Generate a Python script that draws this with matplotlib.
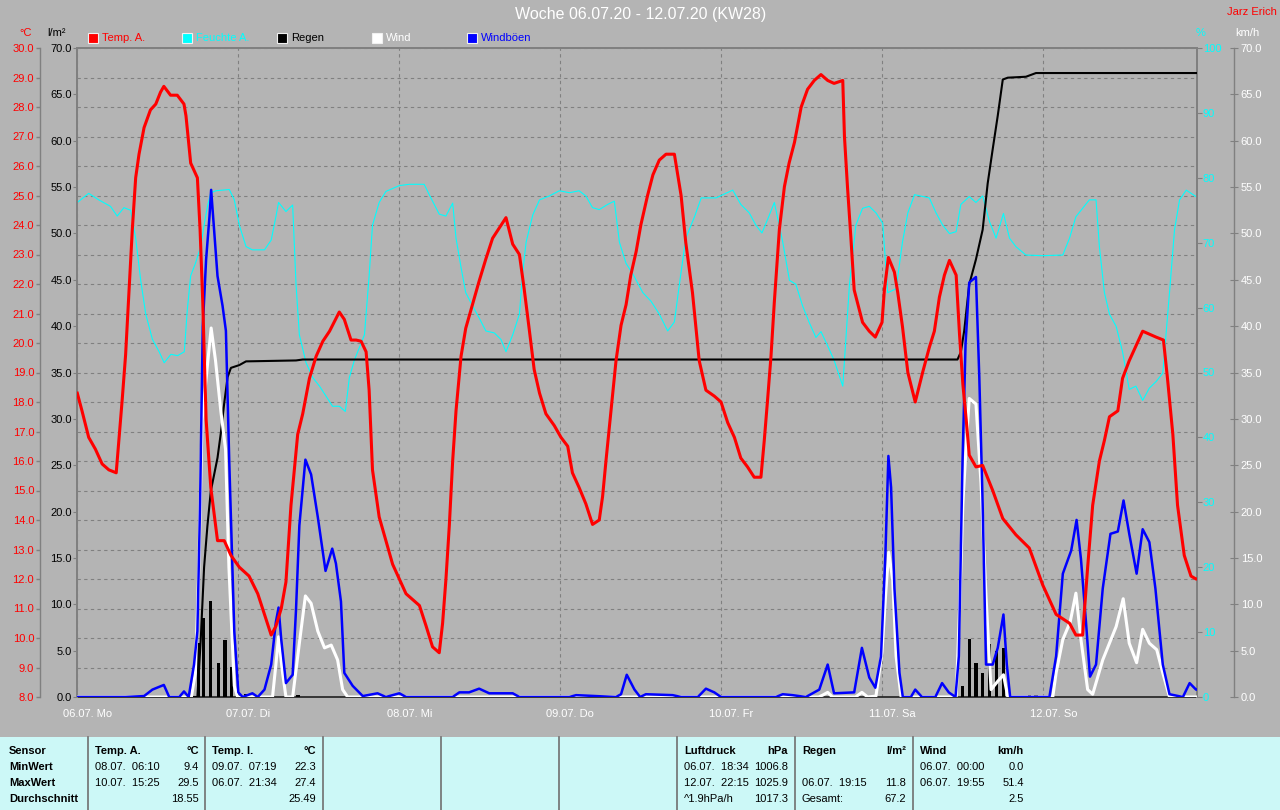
import numpy as np
import matplotlib.pyplot as plt
from matplotlib.patches import Rectangle
from matplotlib.lines import Line2D
from matplotlib.transforms import ScaledTranslation

plt.rcParams['font.family'] = ['Liberation Sans', 'DejaVu Sans']

# ---- data (hours since 06.07. 00:00) ----
day_labels = ['06.07. Mo', '07.07. Di', '08.07. Mi', '09.07. Do', '10.07. Fr', '11.07. Sa', '12.07. So']

temp_hours = [0, 0.7, 1.7, 2.7, 3.7, 4.7, 5.8, 6.2, 6.7, 7.2, 7.7, 8.2, 8.7, 9.2, 9.95, 10.9, 11.7, 12.4, 12.9,
              13.9, 14.9, 15.9, 16.2, 16.9, 17.9, 18.3, 18.7, 19.2, 19.9, 20.9, 21.9, 22.9, 24.15, 25.6, 26.9,
              27.9, 28.9, 29.6, 30.4, 31.1, 31.85, 32.85, 33.6, 34.6, 35.6, 36.6, 37.6, 39.05, 39.8, 40.8,
              41.55, 42.3, 43.05, 43.5, 44.0, 45.0, 46.0, 47.0, 49.0, 51.0, 52.0, 52.95, 53.95, 54.45, 54.95,
              55.45, 55.95, 56.45, 57.2, 57.9, 58.9, 59.9, 60.9, 61.9, 62.9, 63.9, 64.9, 65.9, 66.6, 67.4,
              68.1, 68.9, 69.85, 71.1, 72.1, 73.1, 73.8, 74.8, 75.8, 76.8, 77.8, 78.3, 78.8, 79.55, 80.3,
              81.05, 81.8, 82.5, 83.3, 84.0, 85.0, 85.8, 86.75, 87.75, 89.0, 90.0, 90.7, 91.7, 92.7, 93.7,
              94.95, 95.95, 96.95, 97.95, 98.9, 99.9, 100.9, 101.9, 102.4, 102.9, 103.4, 103.9, 104.65,
              105.4, 106.1, 106.9, 107.9, 108.85, 109.85, 110.85, 111.85, 112.8, 114.1, 114.35, 114.8,
              115.3, 115.8, 117.05, 118.05, 118.95, 119.95, 120.3, 120.9, 121.8, 122.3, 123.0, 123.8, 124.9,
              126.0, 127.0, 127.75, 128.5, 129.25, 130.0, 131.0, 131.5, 132.0, 132.5, 132.95, 133.95,
              134.95, 136.45, 137.95, 139.9, 141.9, 143.9, 145.9, 147.9, 148.85, 149.85, 150.6, 151.35,
              152.35, 153.1, 153.85, 155.1, 155.8, 156.8, 157.8, 158.8, 159.8, 160.8, 161.9, 162.5, 163.3,
              164.0, 165.0, 166.0, 166.75, 166.9]
temp_vals = [18.3, 17.7, 16.8, 16.4, 15.9, 15.7, 15.6, 16.7, 18.1, 19.6, 21.7, 23.85, 25.6, 26.4, 27.3, 27.9,
             28.1, 28.5, 28.7, 28.4, 28.4, 28.1, 27.7, 26.1, 25.6, 23.85, 21.4, 17.4, 15.1, 13.3, 13.3, 12.8,
             12.4, 12.1, 11.5, 10.8, 10.1, 10.4, 11.0, 11.9, 14.5, 16.9, 17.6, 18.8, 19.55, 20.06, 20.4,
             21.05, 20.8, 20.1, 20.1, 20.06, 19.7, 18.4, 15.7, 14.1, 13.3, 12.5, 11.5, 11.1, 10.4, 9.7, 9.5,
             10.5, 12.0, 13.8, 16.0, 17.7, 19.55, 20.5, 21.3, 22.1, 22.85, 23.55, 23.9, 24.25, 23.35, 23.0,
             21.85, 20.4, 19.1, 18.3, 17.6, 17.2, 16.8, 16.5, 15.6, 15.1, 14.55, 13.85, 14.0, 14.8, 16.0,
             17.7, 19.4, 20.6, 21.3, 22.3, 23.1, 24.0, 25.0, 25.7, 26.2, 26.4, 26.4, 25.0, 23.4, 21.7, 19.4,
             18.4, 18.2, 18.0, 17.3, 16.8, 16.1, 15.8, 15.45, 15.45, 16.7, 18.1, 19.55, 21.4, 23.85, 25.3,
             26.1, 26.8, 28.0, 28.6, 28.9, 29.1, 28.9, 28.8, 28.9, 27.0, 25.3, 23.6, 21.8, 20.7, 20.4,
             20.2, 20.7, 21.8, 22.9, 22.4, 21.7, 20.55, 19.0, 18.0, 19.0, 19.85, 20.4, 21.55, 22.3, 22.8,
             22.3, 20.3, 18.6, 17.4, 16.2, 15.8, 15.85, 15.0, 14.05, 13.5, 13.05, 11.8, 10.8, 10.5, 10.1,
             10.1, 12.4, 14.5, 16.0, 16.7, 17.5, 17.7, 18.8, 19.4, 19.9, 20.4, 20.3, 20.2, 20.1, 18.8, 16.9,
             14.5, 12.8, 12.1, 12.0, 12.0]

hum_hours = [0, 1.7, 3.2, 4.95, 5.95, 6.95, 7.95, 8.7, 9.45, 10.2, 11.2, 12.2, 12.95, 13.95, 14.95, 15.95,
             16.4, 16.9, 17.6, 18.4, 18.9, 19.4, 19.9, 20.65, 21.65, 22.65, 23.4, 24.15, 25.15, 26.1, 27.9,
             28.9, 29.6, 30.0, 31.1, 32.1, 32.6, 33.1, 34.1, 35.1, 36.1, 37.1, 38.05, 39.05, 39.95, 40.55,
             41.3, 42.8, 43.5, 44.0, 45.0, 46.0, 48.0, 49.5, 51.7, 52.7, 53.95, 54.95, 55.95, 56.45, 57.2,
             57.9, 58.9, 59.9, 60.9, 62.15, 63.15, 63.9, 64.9, 65.9, 66.4, 66.9, 67.9, 68.9, 70.35, 71.85,
             73.35, 74.8, 75.8, 76.8, 77.8, 79.05, 80.05, 80.8, 81.8, 82.8, 84.3, 85.5, 86.75, 88.0, 89.0,
             89.75, 90.7, 92.0, 93.0, 95.2, 96.45, 97.7, 98.9, 100.15, 101.15, 102.05, 102.9, 103.9,
             105.15, 106.15, 107.1, 108.1, 109.1, 110.1, 110.85, 111.85, 112.8, 114.1, 115.1, 116.05,
             117.05, 118.05, 119.05, 120.05, 120.8, 122.05, 123.0, 123.8, 124.8, 127.0, 128.0, 129.0,
             130.0, 131.0, 131.7, 132.95, 133.95, 134.95, 135.95, 136.95, 138.05, 138.95, 139.9, 141.4,
             143.9, 146.9, 147.9, 148.85, 149.85, 150.85, 151.85, 152.35, 153.1, 153.85, 154.85, 155.8,
             156.8, 157.8, 158.8, 159.8, 160.8, 161.8, 162.8, 163.55, 164.3, 165.3, 166.9]
hum_vals = [76.2, 77.6, 76.6, 75.6, 74.1, 75.4, 75.0, 70.7, 64.2, 59.0, 55.1, 53.2, 51.5, 52.8, 52.6, 53.2,
            59.7, 64.9, 66.8, 69.4, 72.7, 75.6, 77.7, 78.0, 78.1, 78.2, 76.6, 72.7, 69.4, 68.9, 68.9, 70.4,
            74.0, 76.2, 74.8, 75.8, 63.6, 55.8, 51.5, 49.2, 47.9, 46.3, 44.8, 44.8, 44.0, 49.2, 51.9, 55.8,
            64.9, 72.7, 76.2, 77.9, 78.8, 79.0, 79.0, 76.9, 74.4, 74.1, 76.1, 70.7, 66.2, 62.3, 60.3, 58.4,
            56.4, 56.1, 55.1, 53.2, 55.8, 59.0, 65.5, 70.1, 74.3, 76.6, 77.2, 78.0, 77.7, 78.0, 77.2, 75.4,
            75.1, 75.9, 76.4, 70.1, 66.8, 65.2, 62.3, 61.0, 59.0, 56.4, 57.8, 63.6, 70.7, 74.0, 76.9, 76.9,
            77.5, 78.1, 75.9, 74.6, 72.7, 71.5, 73.6, 76.2, 70.1, 64.2, 63.6, 60.3, 57.7, 55.4, 56.3, 54.1,
            51.9, 47.9, 63.6, 72.7, 75.3, 75.6, 74.6, 73.0, 62.3, 62.9, 70.1, 74.6, 77.4, 76.9, 74.6, 72.7,
            71.4, 71.7, 75.9, 77.1, 76.2, 77.2, 73.3, 70.7, 74.5, 70.7, 69.4, 68.1, 68.0, 68.1, 70.7, 74.0,
            75.3, 76.6, 76.6, 69.4, 62.3, 59.0, 57.1, 53.2, 47.4, 47.9, 45.7, 47.6, 48.6, 49.9, 62.3, 72.0,
            76.6, 78.1, 77.0]

rain_sum_hours = [0, 17.9, 18.4, 18.9, 19.4, 19.9, 20.4, 20.9, 21.4, 21.9, 22.4, 22.9, 24.15, 25.15, 32.6,
                  33.6, 131.2, 131.7, 132.2, 132.95, 133.95, 134.95, 135.7, 136.45, 137.2, 137.95, 138.7,
                  141.4, 142.9, 166.9]
rain_sum_vals = [0, 0, 6.2, 14.0, 18.5, 22.2, 24.0, 25.8, 28.5, 31.7, 34.5, 35.5, 35.8, 36.2, 36.3, 36.4,
                 36.4, 37.2, 39.5, 44.5, 47.2, 50.4, 55.4, 59.1, 62.7, 66.6, 66.8, 66.9, 67.3, 67.3]

rain_hours = [18.1, 18.8, 19.9, 21.0, 22.0, 23.0, 24.05, 25.1, 32.9,
              131.95, 132.95, 133.95, 134.95, 135.95, 137.05, 138.05, 141.9, 142.9]
rain_vals = [5.8, 8.5, 10.4, 3.7, 6.2, 3.2, 0.4, 0.3, 0.2,
             1.2, 6.3, 3.7, 2.6, 5.7, 5.0, 5.3, 0.2, 0.2]

wind_hours = [0, 17.0, 17.6, 18.1, 18.6, 19.4, 19.95, 20.6, 21.4, 22.1, 22.6, 23.4, 23.9, 29.1, 29.6, 30.0,
              30.6, 31.1, 32.1, 33.1, 34.0, 34.85, 35.85, 36.85, 37.85, 38.8, 39.55, 40.3, 110.5, 111.1,
              111.85, 112.55, 116.0, 116.95, 117.8, 119.05, 119.95, 120.55, 120.95, 121.55, 122.05, 122.8,
              131.0, 131.5, 132.0, 132.5, 132.95, 133.95, 134.7, 135.45, 136.2, 137.2, 138.05, 138.7,
              145.4, 145.9, 146.9, 148.0, 148.85, 149.6, 150.6, 151.35, 152.85, 154.85, 155.9, 156.8,
              157.9, 158.8, 159.8, 160.9, 161.8, 162.8, 166.9]
wind_vals = [0, 0, 2.6, 13.5, 29.9, 35.8, 39.8, 36.3, 30.8, 26.7, 14.0, 1.2, 0, 0, 3.5, 6.5, 2.6, 0, 0, 5.8,
             10.9, 10.1, 7.1, 5.3, 5.6, 4.0, 0.8, 0, 0, 0.2, 0.5, 0, 0, 0.5, 0, 0.1, 4.9, 11.7, 15.6, 12.6,
             4.4, 0, 0, 9.4, 20.8, 27.2, 32.2, 31.6, 23.1, 10.8, 0.8, 1.7, 2.4, 0, 0, 2.6, 6.2, 8.1, 11.2,
             6.2, 0.8, 0.3, 4.0, 7.6, 10.6, 5.8, 3.7, 7.3, 5.8, 5.1, 2.6, 0, 0]

gust_hours = [0, 7.2, 9.95, 11.2, 12.9, 13.7, 15.2, 15.9, 16.6, 17.4, 17.9, 18.3, 18.7, 19.2, 19.7, 19.95,
              20.25, 20.9, 21.65, 22.15, 22.65, 23.4, 24.0, 24.65, 26.1, 26.9, 27.9, 28.9, 29.6, 30.0, 30.4,
              31.1, 32.1, 32.6, 33.1, 34.0, 34.85, 35.85, 37.0, 38.0, 38.55, 39.3, 39.8, 41.05, 42.55, 44.75,
              46.0, 48.0, 49.0, 55.95, 56.95, 58.4, 59.9, 61.4, 62.4, 64.9, 65.9, 73.35, 74.35, 80.3, 81.05,
              81.9, 83.05, 83.9, 84.75, 88.75, 90.0, 92.5, 93.7, 94.95, 95.95, 104.15, 105.15, 106.6, 108.6,
              110.6, 111.85, 112.8, 115.8, 116.95, 118.05, 118.95, 119.8, 120.45, 120.9, 121.3, 121.8,
              122.55, 123.05, 124.25, 124.9, 125.9, 127.9, 128.9, 129.9, 130.9, 131.4, 131.95, 132.4,
              132.95, 133.95, 134.45, 134.95, 135.45, 136.45, 137.2, 138.05, 138.55, 139.05, 144.9, 145.9,
              146.9, 148.15, 148.95, 149.6, 150.35, 150.95, 151.85, 152.85, 154.0, 155.1, 155.95, 156.8,
              157.9, 158.8, 159.8, 160.7, 161.8, 162.8, 164.8, 165.8, 166.75, 166.9]
gust_vals = [0, 0, 0.1, 0.8, 1.3, 0, 0, 0.6, 0, 3.5, 7.1, 20.8, 39.9, 47.2, 51.8, 54.7, 51.8, 45.4, 42.2,
             39.5, 25.4, 7.1, 0.5, 0, 0.4, 0, 0.8, 3.5, 8.1, 9.65, 6.2, 1.5, 2.4, 9.4, 18.5, 25.6, 24.0,
             19.4, 13.6, 16.0, 14.4, 10.3, 2.6, 1.2, 0.1, 0.4, 0, 0.4, 0, 0, 0.5, 0.5, 0.9, 0.4, 0.4, 0.4,
             0, 0, 0.2, 0, 0.3, 2.4, 0.8, 0, 0.3, 0.2, 0, 0, 0.9, 0.5, 0, 0, 0.3, 0.2, 0, 0.8, 3.5, 0.4,
             0.5, 5.3, 2.1, 1.0, 4.4, 15.3, 26.0, 22.6, 11.7, 2.6, 0, 0, 0.8, 0, 0, 1.5, 0.5, 0, 4.4, 25.4,
             38.1, 44.7, 45.3, 34.5, 20.8, 3.5, 3.5, 5.3, 8.9, 3.5, 0, 0, 4.4, 13.3, 15.8, 19.1, 14.9, 8.1,
             2.2, 3.5, 11.7, 17.6, 17.85, 21.2, 17.6, 13.3, 18.1, 16.7, 11.7, 3.5, 0.3, 0, 1.5, 0.8, 0.8]

# summary table below the chart
table_cols = [
    ('Temp. A.', '°C', [('08.07.  06:10', '9.4'), ('10.07.  15:25', '29.5'), ('', '18.55')]),
    ('Temp. I.', '°C', [('09.07.  07:19', '22.3'), ('06.07.  21:34', '27.4'), ('', '25.49')]),
    ('Luftdruck', 'hPa', [('06.07.  18:34', '1006.8'), ('12.07.  22:15', '1025.9'), ('^1.9hPa/h', '1017.3')]),
    ('Regen', 'l/m²', [('', ''), ('06.07.  19:15', '11.8'), ('Gesamt:', '67.2')]),
    ('Wind', 'km/h', [('06.07.  00:00', '0.0'), ('06.07.  19:55', '51.4'), ('', '2.5')]),
]
table_left = [88, 205, 677, 795, 913]
row_names = ['Sensor', 'MinWert', 'MaxWert', 'Durchschnitt']

# ---- layout helpers (pixels) ----
W, H = 1280, 810
def fx(x):
    return x / W
def fy(y):
    return 1 - y / H
PT = 0.72  # points per pixel at dpi 100

BG = '#b4b4b4'
GRID = '#808080'

fig = plt.figure(figsize=(12.8, 8.1), dpi=100, facecolor=BG)
ax = fig.add_axes([fx(77.3), fy(697), fx(1197) - fx(77.3), (697 - 48) / H])
ax.set_facecolor(BG)
ax.set_xlim(0, 166.9)
ax.set_ylim(8, 30)

# temperature axis (outer left)
ax.set_yticks(np.arange(8, 30.1, 1))
ax.yaxis.set_major_formatter('{x:.1f}')
ax.spines['left'].set_position(('outward', 37 * PT))
ax.spines['left'].set_color(GRID)
ax.spines['left'].set_linewidth(1)
ax.spines['top'].set_color(GRID)
ax.spines['top'].set_linewidth(2 * PT)
ax.spines['right'].set_visible(False)
ax.spines['bottom'].set_color('#202020')
ax.spines['bottom'].set_linewidth(1.2)
ax.tick_params(axis='y', direction='out', length=4 * PT, width=1, color=GRID,
               labelcolor='red', labelsize=8, pad=1.5)

day_pos = np.arange(len(day_labels)) * 24
ax.set_xticks(day_pos)
ax.set_xticklabels([])
ax.tick_params(axis='x', length=0)
ax.grid(True, color=GRID, linestyle=(0, (3, 3)), linewidth=0.8)
shift = ScaledTranslation(10 / 100, 0, fig.dpi_scale_trans)
for d, lab in zip(day_pos, day_labels):
    ax.text(d, -0.026, lab, transform=ax.get_xaxis_transform() + shift,
            ha='center', va='center', color='white', fontsize=8)

# humidity axis (right frame)
ax_h = ax.twinx()
ax_h.set_ylim(0, 100)
ax_h.set_yticks(np.arange(0, 101, 10))
ax_h.yaxis.set_major_formatter('{x:.0f}')
for s in ['left', 'top', 'bottom']:
    ax_h.spines[s].set_visible(False)
ax_h.spines['right'].set_color(GRID)
ax_h.spines['right'].set_linewidth(2 * PT)
ax_h.tick_params(axis='y', direction='out', length=5 * PT, color=GRID,
                 labelcolor='cyan', labelsize=8, pad=0.5)
ax_h.plot(hum_hours, hum_vals, color='cyan', lw=0.8)

# rain axis (left frame)
ax_r = ax.twinx()
ax_r.set_ylim(0, 70)
ax_r.yaxis.set_ticks_position('left')
ax_r.set_yticks(np.arange(0, 71, 5))
ax_r.yaxis.set_major_formatter('{x:.1f}')
for s in ['right', 'top', 'bottom']:
    ax_r.spines[s].set_visible(False)
ax_r.spines['left'].set_color(GRID)
ax_r.spines['left'].set_linewidth(2 * PT)
ax_r.tick_params(axis='y', direction='out', length=4 * PT, color=GRID,
                 labelcolor='black', labelsize=8, pad=1)
ax_r.bar(rain_hours, rain_vals, width=0.5, color='black')
ax_r.plot(rain_sum_hours, rain_sum_vals, color='black', lw=1.5)

# wind axis (outer right)
ax_w = ax.twinx()
ax_w.set_ylim(0, 70)
ax_w.set_yticks(np.arange(0, 71, 5))
ax_w.yaxis.set_major_formatter('{x:.1f}')
for s in ['left', 'top', 'bottom']:
    ax_w.spines[s].set_visible(False)
ax_w.spines['right'].set_position(('outward', 37 * PT))
ax_w.spines['right'].set_color(GRID)
ax_w.spines['right'].set_linewidth(1)
ax_w.tick_params(axis='y', direction='inout', length=8 * PT, color=GRID,
                 labelcolor='white', labelsize=8, pad=2)
ax_w.plot(wind_hours, wind_vals, color='white', lw=2.2)
ax_w.plot(gust_hours, gust_vals, color='blue', lw=1.8)

# temperature line on top
ax_t = ax.twinx()
ax_t.set_ylim(8, 30)
ax_t.set_axis_off()
ax_t.plot(temp_hours, temp_vals, color='red', lw=2.2)

# ---- header texts ----
fig.text(fx(641), fy(15), 'Woche 06.07.20 - 12.07.20 (KW28)', ha='center', va='center',
         color='white', fontsize=11.5)
fig.text(fx(1277), fy(12), 'Jarz Erich', ha='right', va='center', color='red', fontsize=8)
fig.text(fx(25.5), fy(33), '°C', ha='center', va='center', color='red', fontsize=8)
fig.text(fx(57), fy(33), 'l/m²', ha='center', va='center', color='black', fontsize=8)
fig.text(fx(1201), fy(33), '%', ha='center', va='center', color='cyan', fontsize=8)
fig.text(fx(1247), fy(33), 'km/h', ha='center', va='center', color='white', fontsize=8)

legend = [('Temp. A.', 'red', 88), ('Feuchte A.', 'cyan', 182), ('Regen', 'black', 277),
          ('Wind', 'white', 372), ('Windböen', 'blue', 467)]
for name, col, x in legend:
    fig.add_artist(Rectangle((fx(x), fy(43)), 10 / W, 10 / H, facecolor=col, edgecolor='#f0f0f0',
                             lw=0.8, transform=fig.transFigure))
    fig.text(fx(x + 14), fy(38), name, ha='left', va='center', color=col, fontsize=8)

# ---- table ----
fig.add_artist(Rectangle((0, 0), 1, 73 / H, facecolor='#ccf8f7', edgecolor='none',
                         transform=fig.transFigure))
for x in [88, 205, 323, 441, 559, 677, 795, 913]:
    fig.add_artist(Line2D([fx(x), fx(x)], [0, fy(737)], color='#707070', lw=1.2,
                          transform=fig.transFigure))
row_y = [751, 767, 783, 799]
for name, y in zip(row_names, row_y):
    fig.text(fx(9), fy(y), name, ha='left', va='center', fontsize=8, fontweight='bold')
for x0, (head, unit, rows) in zip(table_left, table_cols):
    fig.text(fx(x0 + 7), fy(row_y[0]), head, ha='left', va='center', fontsize=8, fontweight='bold')
    fig.text(fx(x0 + 111), fy(row_y[0]), unit, ha='right', va='center', fontsize=8, fontweight='bold')
    for (left, right), y in zip(rows, row_y[1:]):
        fig.text(fx(x0 + 7), fy(y), left, ha='left', va='center', fontsize=8)
        fig.text(fx(x0 + 111), fy(y), right, ha='right', va='center', fontsize=8)

fig.savefig('out.png', dpi=100, facecolor=BG)
